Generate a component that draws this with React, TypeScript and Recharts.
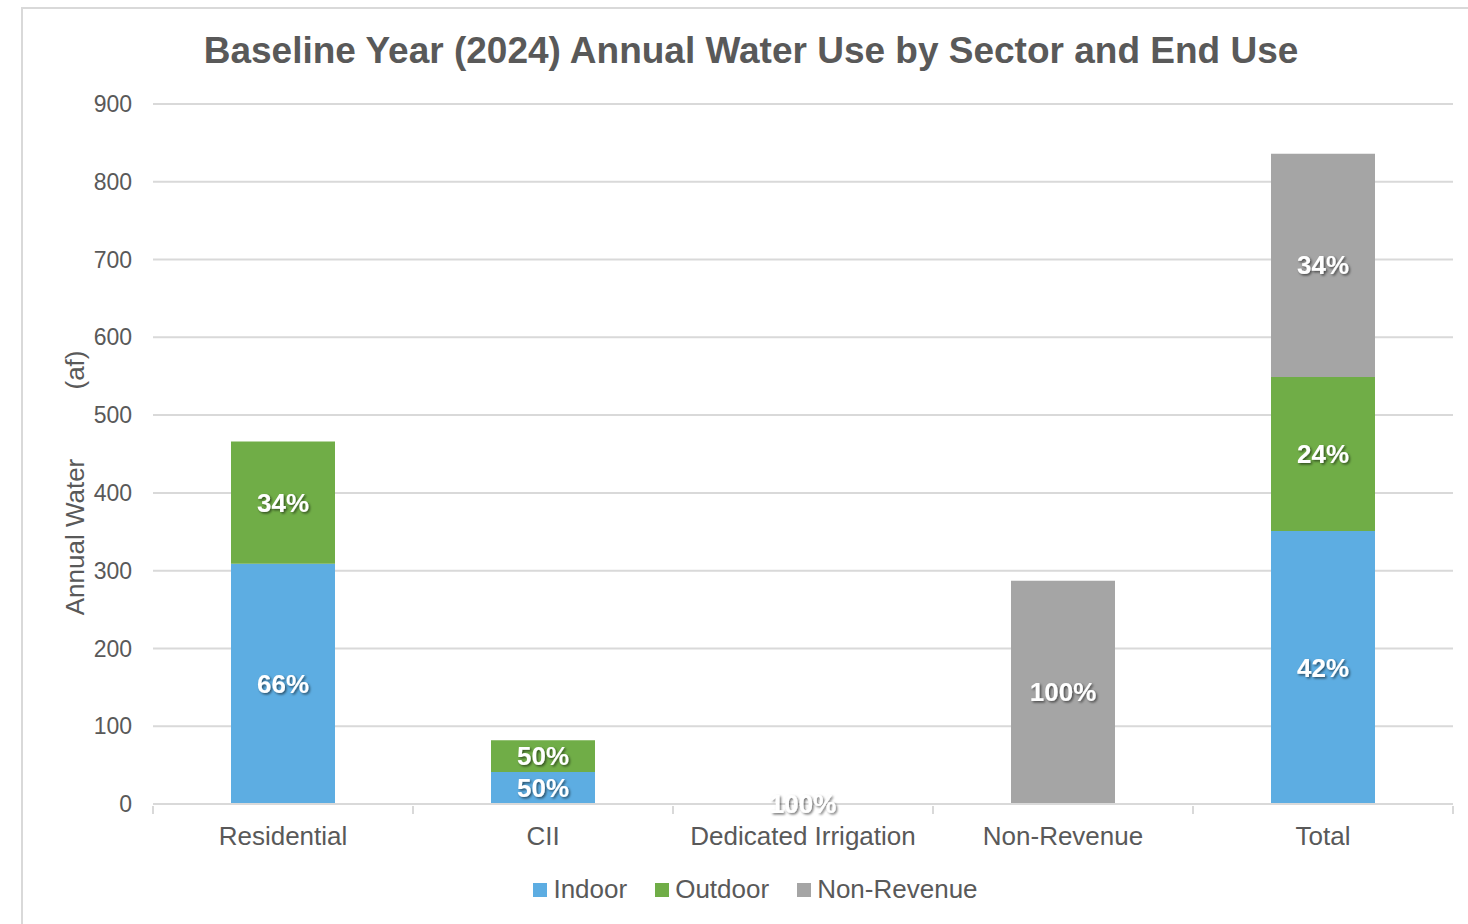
// Stacked bar chart of baseline-year water use, split by end use.

import { BarChart, Bar, XAxis, YAxis, CartesianGrid, Legend, LabelList } from 'recharts';

const sectors = ['Residential', 'CII', 'Dedicated Irrigation', 'Non-Revenue', 'Total'];
const indoor = [309, 41, 0, 0, 351];
const outdoor = [157, 41, 0.5, 0, 198];
const nonRevenue = [0, 0, 0, 287, 287];
const yTicks = [0, 100, 200, 300, 400, 500, 600, 700, 800, 900];

const TEXT = '#595959';
const GRID = '#d9d9d9';
const FONT = 'Arial, "Liberation Sans", sans-serif';

const series = [
  { key: 'Indoor', values: indoor, color: '#5DADE2' },
  { key: 'Outdoor', values: outdoor, color: '#70AD47' },
  { key: 'Non-Revenue', values: nonRevenue, color: '#A5A5A5' },
];

const totals = sectors.map((_, i) => indoor[i] + outdoor[i] + nonRevenue[i]);

const pct = (v: number, i: number) => (v ? `${Math.round((v / totals[i]) * 100)}%` : '');

const data = sectors.map((name, i) => ({
  name,
  Indoor: indoor[i],
  Outdoor: outdoor[i],
  'Non-Revenue': nonRevenue[i],
  IndoorPct: pct(indoor[i], i),
  OutdoorPct: pct(outdoor[i], i),
  NonRevenuePct: pct(nonRevenue[i], i),
}));

function PctLabel(props: any) {
  const { x, y, width, height, value } = props;
  if (!value) return null;
  return (
    <text
      x={Number(x) + Number(width) / 2}
      y={Number(y) + Number(height) / 2}
      textAnchor="middle"
      dominantBaseline="central"
      fill="#ffffff"
      fontFamily={FONT}
      fontWeight="bold"
      fontSize={26}
      filter="url(#lblShadow)"
    >
      {value}
    </text>
  );
}

function SectorTick(props: any) {
  const { x, y, payload, index } = props;
  const half = payload?.offset || 130;
  return (
    <g>
      <line x1={x - half} x2={x - half} y1={y} y2={y + 8} stroke={GRID} strokeWidth={2} />
      {index === sectors.length - 1 && (
        <line x1={x + half} x2={x + half} y1={y} y2={y + 8} stroke={GRID} strokeWidth={2} />
      )}
      <text x={x} y={y + 39} textAnchor="middle" fill={TEXT} fontFamily={FONT} fontSize={26}>
        {payload.value}
      </text>
    </g>
  );
}

function LegendContent() {
  return (
    <div style={{ display: 'flex', justifyContent: 'center', gap: 28, fontFamily: FONT, fontSize: 26, color: TEXT }}>
      {series.map((s) => (
        <div key={s.key} style={{ display: 'flex', alignItems: 'center' }}>
          <span style={{ display: 'inline-block', width: 14, height: 14, background: s.color, marginRight: 6 }} />
          <span>{s.key}</span>
        </div>
      ))}
    </div>
  );
}

export default function App() {
  return (
    <div style={{ position: 'relative', width: 1468, height: 924, overflow: 'hidden', background: '#fff' }}>
      <style>{'body{margin:0;overflow:hidden;}'}</style>
      <div
        style={{
          position: 'absolute',
          left: 21,
          top: 7,
          width: 1500,
          height: 1000,
          borderLeft: `2px solid ${GRID}`,
          borderTop: `2px solid ${GRID}`,
        }}
      />
      <div style={{ position: 'absolute', left: 0, top: 0 }}>
        <BarChart width={1468} height={924} data={data} margin={{ top: 104, right: 15, bottom: 90, left: 83 }} barSize={104}>
          <defs>
            <filter id="lblShadow" x="-20%" y="-30%" width="140%" height="160%">
              <feDropShadow dx={1.5} dy={1.5} stdDeviation={1.2} floodColor="#000" floodOpacity={0.55} />
            </filter>
          </defs>
          <text x={751} y={63} textAnchor="middle" fill={TEXT} fontFamily={FONT} fontWeight="bold" fontSize={37}>
            Baseline Year (2024) Annual Water Use by Sector and End Use
          </text>
          <text x={84} y={537} transform="rotate(-90 84 537)" textAnchor="middle" fill={TEXT} fontFamily={FONT} fontSize={26}>
            Annual Water
          </text>
          <text x={84} y={370} transform="rotate(-90 84 370)" textAnchor="middle" fill={TEXT} fontFamily={FONT} fontSize={26}>
            (af)
          </text>
          <CartesianGrid vertical={false} stroke={GRID} strokeWidth={2} />
          <XAxis
            dataKey="name"
            height={30}
            axisLine={{ stroke: GRID, strokeWidth: 2 }}
            tickLine={false}
            tickSize={0}
            tick={<SectorTick />}
            interval={0}
          />
          <YAxis
            domain={[0, 900]}
            ticks={yTicks}
            axisLine={false}
            tickLine={false}
            tickSize={0}
            tickMargin={21}
            width={70}
            tick={{ fill: TEXT, fontFamily: FONT, fontSize: 23 }}
          />
          <Legend
            verticalAlign="middle"
            align="center"
            content={<LegendContent />}
            wrapperStyle={{ top: 874, left: 0, width: 1511 }}
          />
          <Bar dataKey="Indoor" stackId="a" fill="#5DADE2" isAnimationActive={false}>
            <LabelList dataKey="IndoorPct" content={<PctLabel />} />
          </Bar>
          <Bar dataKey="Outdoor" stackId="a" fill="#70AD47" isAnimationActive={false}>
            <LabelList dataKey="OutdoorPct" content={<PctLabel />} />
          </Bar>
          <Bar dataKey="Non-Revenue" stackId="a" fill="#A5A5A5" isAnimationActive={false}>
            <LabelList dataKey="NonRevenuePct" content={<PctLabel />} />
          </Bar>
        </BarChart>
      </div>
    </div>
  );
}
